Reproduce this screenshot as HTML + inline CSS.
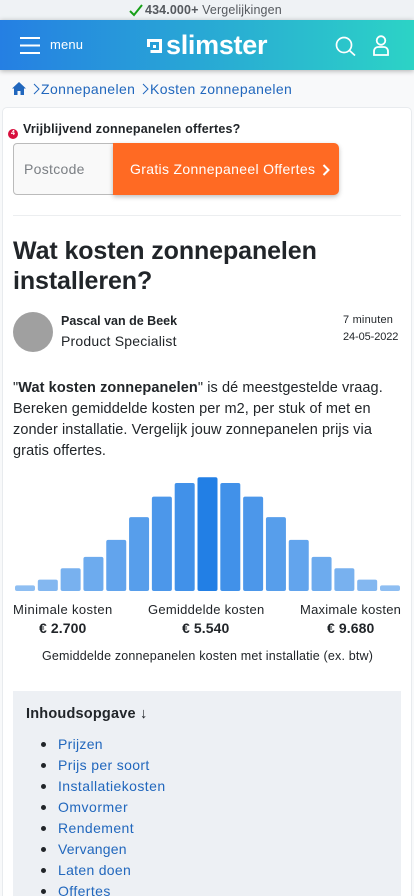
<!DOCTYPE html>
<html lang="nl">
<head>
<meta charset="utf-8">
<title>Wat kosten zonnepanelen installeren?</title>
<style>
html,body{margin:0;padding:0;width:414px;height:896px;overflow:hidden;background:#f8f9fa;}
body{position:relative;font-family:"Liberation Sans","DejaVu Sans",sans-serif;color:#212529;}
.t{position:absolute;white-space:nowrap;margin:0;}
a{color:#2167bd;text-decoration:none;}
#topbar{position:absolute;left:0;top:0;width:414px;height:20px;background:#eff2f5;}
#header{position:absolute;left:0;top:20px;width:414px;height:50px;background:linear-gradient(90deg,#257fe3,#2cd3c6);box-shadow:0 1px 5px rgba(0,0,0,.3);}
#card{position:absolute;left:2px;top:107px;width:410px;height:800px;background:#fff;border:1px solid #e8ebee;border-radius:5px;box-sizing:border-box;}
#toc{position:absolute;left:13px;top:691px;width:388px;height:205px;background:#edf0f4;}
#toc ul{position:absolute;left:0;top:43px;margin:0;padding:0;list-style:none;}
#toc li{position:absolute;left:45px;height:21px;}
</style>
</head>
<body>
<div id="topbar">
  <svg style="position:absolute;left:129px;top:3px" width="14" height="14" viewBox="0 0 14 14"><path d="M1 8 L5 12 L13 2" fill="none" stroke="#17a018" stroke-width="2"/></svg>
  <div class="t" style="left:145px;top:2px;font-size:12.500px;line-height:16px;color:#55595e;letter-spacing:.13px"><b>434.000+</b> Vergelijkingen</div>
</div>
<div id="header">
  <svg style="position:absolute;left:20px;top:17px" width="20" height="17" viewBox="0 0 20 17"><path d="M0 1h20M0 8.500h20M0 16h20" stroke="#fff" stroke-width="2"/></svg>
  <div class="t" style="left:50px;top:17px;font-size:13px;line-height:16px;color:#fff;letter-spacing:.15px">menu</div>
  <svg style="position:absolute;left:147px;top:19px" width="15" height="15" viewBox="0 0 15 15"><path d="M0 0h15v14H3.500v-3H12V3H3v5H0z M6 6h3v3H6z" fill="#fff" fill-rule="evenodd"/></svg>
  <div class="t" style="left:166px;top:10px;font-size:27px;line-height:30px;font-weight:bold;color:#fff;letter-spacing:-.3px">slimster</div>
  <svg style="position:absolute;left:335px;top:16px" width="21" height="20" viewBox="0 0 21 20"><circle cx="9" cy="9" r="7.500" fill="none" stroke="#fff" stroke-width="1.700"/><path d="M14.500 14.500L20 19.500" stroke="#fff" stroke-width="1.700"/></svg>
  <svg style="position:absolute;left:373px;top:15px" width="16" height="21" viewBox="0 0 16 21"><circle cx="8" cy="5.500" r="4.300" fill="none" stroke="#fff" stroke-width="1.800"/><path d="M1 20v-3.500c0-3 2-4.500 4-4.500h6c2 0 4 1.500 4 4.500V20z" fill="none" stroke="#fff" stroke-width="1.800"/></svg>
</div>
<nav>
  <svg style="position:absolute;left:12px;top:82px" width="14" height="13" viewBox="0 0 14 13"><path d="M7 0L14 6.500H12V13H8.500V9h-3v4H2V6.500H0z" fill="#2167bd"/></svg>
  <svg style="position:absolute;left:33px;top:83px" width="7" height="12" viewBox="0 0 7 12"><path d="M1 1l5 5-5 5" fill="none" stroke="#2167bd"/></svg>
  <a class="t" href="#" style="left:41px;top:81px;font-size:14px;line-height:16px;letter-spacing:.4px">Zonnepanelen</a>
  <svg style="position:absolute;left:142px;top:83px" width="7" height="12" viewBox="0 0 7 12"><path d="M1 1l5 5-5 5" fill="none" stroke="#2167bd"/></svg>
  <a class="t" href="#" style="left:150px;top:81px;font-size:14px;line-height:16px;letter-spacing:.35px">Kosten zonnepanelen</a>
</nav>
<div id="card"></div>

<div style="position:absolute;left:8px;top:129px;width:10px;height:10px;border-radius:50%;background:#d80f3d;color:#fff;font-size:7px;font-weight:bold;line-height:10px;text-align:center">4</div>
<div class="t" style="left:23px;top:121px;font-size:12.500px;line-height:16px;font-weight:bold;letter-spacing:.2px">Vrijblijvend zonnepanelen offertes?</div>
<div style="position:absolute;left:13px;top:143px;width:102px;height:52px;background:#f9f9f9;border:1px solid #bbb;border-radius:4px 0 0 4px;box-sizing:border-box"></div>
<div class="t" style="left:24px;top:161px;font-size:14px;line-height:17px;color:#7b7f84;letter-spacing:.3px">Postcode</div>
<div style="position:absolute;left:113px;top:143px;width:226px;height:52px;background:#ff6a23;border-radius:0 5px 5px 0;box-shadow:0 2px 5px rgba(0,0,0,.25)"></div>
<div class="t" style="left:130px;top:161px;font-size:14px;line-height:17px;color:#fff;letter-spacing:.33px">Gratis Zonnepaneel Offertes</div>
<svg style="position:absolute;left:322px;top:164px" width="8" height="12" viewBox="0 0 8 12"><path d="M1.500 1l5 5-5 5" fill="none" stroke="#fff" stroke-width="2"/></svg>
<div style="position:absolute;left:13px;top:215px;width:388px;height:1px;background:#eceef0"></div>

<h1 class="t" style="left:13px;top:236px;font-size:25px;line-height:30px;font-weight:bold;letter-spacing:-.1px">Wat kosten zonnepanelen<br>installeren?</h1>

<div style="position:absolute;left:13px;top:312px;width:40px;height:40px;border-radius:50%;background:#a0a0a0"></div>
<div class="t" style="left:61px;top:313px;font-size:12.500px;line-height:16px;font-weight:bold;letter-spacing:0">Pascal van de Beek</div>
<div class="t" style="left:61px;top:333px;font-size:14px;line-height:17px;letter-spacing:.2px">Product Specialist</div>
<div class="t" style="left:343px;top:313px;font-size:11px;line-height:14px;letter-spacing:.2px">7 minuten</div>
<div class="t" style="left:343px;top:330px;font-size:11px;line-height:14px;letter-spacing:-.1px">24-05-2022</div>

<p class="t" style="left:13px;top:378px;font-size:14.500px;line-height:21px;letter-spacing:.09px">"<b>Wat kosten zonnepanelen</b>" is dé meestgestelde vraag.<br>Bereken gemiddelde kosten per m2, per stuk of met en<br>zonder installatie. Vergelijk jouw zonnepanelen prijs via<br>gratis offertes.</p>

<svg id="chart" style="position:absolute;left:0;top:470px" width="414" height="125" viewBox="0 0 414 125"></svg>

<div class="t" style="left:13px;top:601px;font-size:13px;line-height:17px;letter-spacing:.38px">Minimale kosten</div>
<div class="t" style="left:148px;top:601px;font-size:13px;line-height:17px;letter-spacing:.26px">Gemiddelde kosten</div>
<div class="t" style="left:300px;top:601px;font-size:13px;line-height:17px;letter-spacing:.24px">Maximale kosten</div>
<div class="t" style="left:39px;top:620px;font-size:14px;line-height:17px;font-weight:bold;letter-spacing:.1px">€ 2.700</div>
<div class="t" style="left:182px;top:620px;font-size:14px;line-height:17px;font-weight:bold;letter-spacing:.1px">€ 5.540</div>
<div class="t" style="left:327px;top:620px;font-size:14px;line-height:17px;font-weight:bold;letter-spacing:.1px">€ 9.680</div>
<div class="t" style="left:42px;top:649px;font-size:12.500px;line-height:15px;letter-spacing:.18px">Gemiddelde zonnepanelen kosten met installatie (ex. btw)</div>

<div id="toc">
  <div class="t" style="left:13px;top:15px;font-size:14.500px;line-height:17px;font-weight:bold;letter-spacing:.2px">Inhoudsopgave ↓</div>
  <ul>
    <li style="top:0"><span style="position:absolute;left:-17px;top:8px;width:5px;height:5px;border-radius:50%;background:#212529"></span><a class="t" href="#" style="left:0;top:1px;font-size:14px;line-height:18px;letter-spacing:.3px">Prijzen</a></li>
    <li style="top:21px"><span style="position:absolute;left:-17px;top:8px;width:5px;height:5px;border-radius:50%;background:#212529"></span><a class="t" href="#" style="left:0;top:1px;font-size:14px;line-height:18px;letter-spacing:.35px">Prijs per soort</a></li>
    <li style="top:42px"><span style="position:absolute;left:-17px;top:8px;width:5px;height:5px;border-radius:50%;background:#212529"></span><a class="t" href="#" style="left:0;top:1px;font-size:14px;line-height:18px;letter-spacing:.42px">Installatiekosten</a></li>
    <li style="top:63px"><span style="position:absolute;left:-17px;top:8px;width:5px;height:5px;border-radius:50%;background:#212529"></span><a class="t" href="#" style="left:0;top:1px;font-size:14px;line-height:18px;letter-spacing:.5px">Omvormer</a></li>
    <li style="top:84px"><span style="position:absolute;left:-17px;top:8px;width:5px;height:5px;border-radius:50%;background:#212529"></span><a class="t" href="#" style="left:0;top:1px;font-size:14px;line-height:18px;letter-spacing:.4px">Rendement</a></li>
    <li style="top:105px"><span style="position:absolute;left:-17px;top:8px;width:5px;height:5px;border-radius:50%;background:#212529"></span><a class="t" href="#" style="left:0;top:1px;font-size:14px;line-height:18px;letter-spacing:.2px">Vervangen</a></li>
    <li style="top:126px"><span style="position:absolute;left:-17px;top:8px;width:5px;height:5px;border-radius:50%;background:#212529"></span><a class="t" href="#" style="left:0;top:1px;font-size:14px;line-height:18px;letter-spacing:.3px">Laten doen</a></li>
    <li style="top:147px"><span style="position:absolute;left:-17px;top:8px;width:5px;height:5px;border-radius:50%;background:#212529"></span><a class="t" href="#" style="left:0;top:1px;font-size:14px;line-height:18px;letter-spacing:.4px">Offertes</a></li>
  </ul>
</div>

<script>
var binLabels = ["b1","b2","b3","b4","b5","b6","b7","b8","b9","b10","b11","b12","b13","b14","b15","b16","b17"];
var binValues = [5,10,20,30,45,65,83,95,100,95,83,65,45,30,20,10,5];

var svg = document.getElementById('chart');
var NS = 'http://www.w3.org/2000/svg';
var plotLeft = 15, plotRight = 400, baseline = 121, plotHeight = 113.700, barWidth = 20;
var maxValue = 100;
function xScale(i) {
  var step = (plotRight - plotLeft - barWidth) / (binLabels.length - 1);
  return plotLeft + i * step;
}
function yScale(v) {
  return baseline - (v / maxValue) * plotHeight;
}
function barOpacity(i) {
  var mid = (binLabels.length - 1) / 2;
  var d = Math.abs(i - mid);
  return d === 0 ? 1 : 0.91 - d * 0.05;
}
binValues.forEach(function (v, i) {
  var r = document.createElementNS(NS, 'rect');
  
  
  r.setAttribute('x', xScale(i));
  r.setAttribute('y', yScale(v));
  r.setAttribute('width', barWidth);
  r.setAttribute('height', baseline - yScale(v));
  r.setAttribute('rx', 2);
  r.setAttribute('fill', '#227fe5');
  r.setAttribute('fill-opacity', barOpacity(i));
  svg.appendChild(r);
});
</script>
</body>
</html>
